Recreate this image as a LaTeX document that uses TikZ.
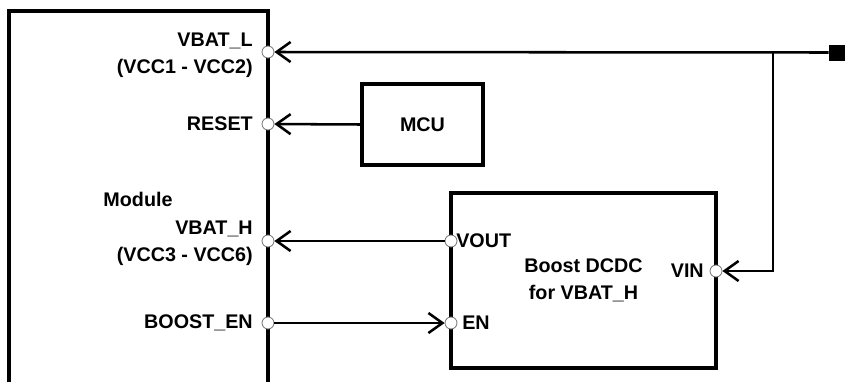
\documentclass[tikz,border=0pt]{standalone}
\usepackage{fontspec}
\setmainfont{Liberation Sans}
\usetikzlibrary{arrows.meta}
\begin{document}
\begin{tikzpicture}[x=0.75pt,y=-0.75pt,
  box/.style={draw, line width=2.3pt, inner sep=0pt},
  pin/.style={circle, draw=black!55, fill=white, line width=0.6pt, inner sep=0pt, minimum size=9pt},
  wire/.style={line width=1.9pt},
  arr/.style={wire, -{Straight Barb[length=10.5pt,width=15pt,line width=1.9pt]}},
  lbl/.style={font=\fontsize{14.8}{20}\selectfont\bfseries, inner sep=0pt},
]
\useasboundingbox (0,0) rectangle (845,382);
% module box, open at the bottom
\draw[line width=2.3pt] (9,382) -- (9,11) -- (268,11) -- (268,382);
\node[lbl] (module) at (138,199) {Module};
% MCU and boost converter
\node[box, lbl, minimum width=90.75pt, minimum height=60.75pt] (mcu) at (422.5,124.5) {MCU};
\node[box, lbl, align=center, minimum width=198.75pt, minimum height=131.25pt] (boost) at (583.5,280.5) {Boost DCDC\\for VBAT\_H};
% terminal
\node[fill=black, inner sep=0pt, minimum size=12pt] (term) at (837,52.5) {};
\coordinate (j) at (773,52);
\coordinate (k) at (773,271);
% pins
\node[pin] (pL) at (268,52) {};
\node[pin] (pReset) at (268,124) {};
\node[pin] (pH) at (268,241) {};
\node[pin] (pEn) at (268,323) {};
\node[pin] (pVout) at (451,241) {};
\node[pin] (pEnB) at (451,323) {};
\node[pin] (pVin) at (716,271) {};
% connectors
\draw[arr] (term.west) -- (pL);
\draw[arr] (j) -- (k) -- (pVin);
\draw[arr] (mcu.west) -- (pReset);
\draw[arr] (pVout) -- (pH);
\draw[arr] (pEn) -- (pEnB);
% pin labels
\node[lbl, anchor=east, align=right] (tL) at (253,55) {VBAT\_L\\(VCC1 - VCC2)};
\node[lbl, anchor=east] (tReset) at (253,124) {RESET};
\node[lbl, anchor=east, align=right] (tH) at (253,243) {VBAT\_H\\(VCC3 - VCC6)};
\node[lbl, anchor=east] (tEn) at (253,323) {BOOST\_EN};
\node[lbl, anchor=west] (tVout) at (456,241) {VOUT};
\node[lbl, anchor=west] (tEnB) at (462,323) {EN};
\node[lbl, anchor=east] (tVin) at (704,271) {VIN};
\end{tikzpicture}
\end{document}
